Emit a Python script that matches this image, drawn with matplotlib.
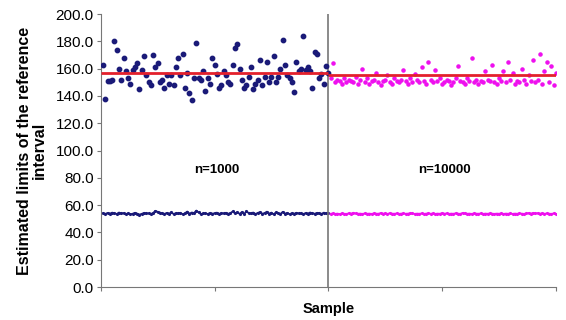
import numpy as np
import matplotlib.pyplot as plt

plt.rcParams['font.family'] = ['Liberation Sans', 'DejaVu Sans']

# upper limits, n=1000 (samples 1-100) and n=10000 (samples 101-200)
upper_1000 = [163, 138, 151, 151, 152, 180, 174, 160, 152, 168,
              158, 153, 149, 159, 161, 164, 145, 159, 169, 155,
              150, 148, 170, 161, 164, 150, 152, 146, 155, 149,
              155, 148, 161, 168, 155, 171, 146, 157, 142, 137,
              153, 179, 153, 152, 158, 144, 153, 149, 168, 163,
              156, 146, 148, 158, 155, 150, 149, 163, 175, 178,
              160, 152, 146, 148, 154, 161, 145, 149, 152, 166,
              148, 154, 165, 150, 154, 169, 150, 154, 160, 181,
              163, 155, 153, 150, 143, 165, 158, 160, 184, 159,
              161, 158, 146, 172, 171, 153, 156, 149, 162, 157]
upper_10000 = [153, 164, 150, 152, 151, 149, 153, 150, 152, 151,
               150, 154, 149, 152, 160, 150, 153, 149, 151, 152,
               157, 150, 148, 151, 152, 155, 150, 149, 153, 151,
               150, 152, 159, 151, 149, 153, 150, 156, 152, 150,
               161, 151, 149, 165, 152, 150, 159, 151, 153, 149,
               150, 152, 151, 148, 150, 153, 162, 151, 150, 149,
               153, 151, 168, 150, 152, 149, 151, 150, 158, 152,
               151, 163, 150, 149, 153, 151, 158, 150, 165, 152,
               157, 149, 151, 150, 160, 152, 149, 155, 151, 166,
               150, 152, 171, 149, 158, 165, 150, 162, 148, 157]

# lower limits
lower_1000 = [54.0, 53.6, 54.3, 53.8, 54.5, 54.1, 53.5, 54.6, 53.9, 54.2,
              53.4, 54.0, 53.2, 53.7, 54.4, 53.8, 53.1, 53.6, 54.3, 53.9,
              54.0, 53.5, 54.2, 55.8, 55.1, 54.6, 54.0, 53.6, 54.3, 53.7,
              54.8, 53.5, 54.1, 53.9, 54.4, 53.3, 54.0, 55.3, 53.8, 54.6,
              54.2, 56.0, 54.7, 53.4, 53.9, 54.1, 53.5, 54.3, 53.8, 54.0,
              54.5, 53.6, 54.2, 53.9, 54.4, 53.7, 54.1, 55.4, 54.0, 54.8,
              53.6, 54.9, 53.4, 55.5, 54.2, 53.9, 54.6, 53.5, 54.3, 54.9,
              53.7, 54.2, 55.2, 53.8, 54.5, 53.3, 54.7, 54.0, 53.6, 55.1,
              53.8, 54.3, 53.4, 54.1, 53.7, 54.4, 53.9, 54.0, 53.5, 54.2,
              53.8, 54.6, 54.0, 53.7, 54.3, 54.1, 53.6, 54.5, 53.9, 54.2]
lower_10000 = [53.7, 53.9, 53.6, 53.8, 53.5, 53.9, 53.7, 53.6, 54.0, 53.8,
               54.4, 53.9, 53.7, 53.8, 53.6, 53.9, 53.7, 53.8, 53.6, 53.9,
               53.8, 53.7, 54.2, 53.8, 53.9, 53.6, 54.1, 53.8, 53.7, 53.9,
               53.6, 53.8, 53.9, 53.7, 53.8, 54.1, 53.9, 53.6, 53.8, 53.7,
               53.9, 53.6, 53.8, 54.0, 53.7, 53.9, 53.6, 53.8, 53.7, 54.1,
               53.8, 53.9, 53.6, 53.8, 53.7, 54.0, 53.8, 53.6, 54.3, 53.9,
               53.7, 53.8, 53.6, 53.9, 53.8, 53.7, 53.9, 53.6, 53.8, 53.7,
               53.9, 53.8, 53.6, 53.8, 53.7, 53.9, 53.6, 53.8, 53.7, 53.9,
               53.6, 53.8, 53.7, 53.9, 53.8, 53.6, 53.9, 54.2, 53.8, 54.3,
               53.9, 54.1, 53.8, 54.0, 53.7, 53.9, 53.8, 53.6, 53.9, 53.8]

mean_upper = [156.5, 155.5]   # red reference lines
split = 100
ymax = 200

s1 = np.arange(1, len(upper_1000) + 1)
s2 = np.arange(split + 1, split + len(upper_10000) + 1)

navy = '#1a1a78'
mag = '#ee10ee'

fig = plt.figure(figsize=(5.66, 3.2), dpi=100)
ax = fig.add_axes([0.178, 0.103, 0.804, 0.853])

ax.plot(s1, lower_1000, '-', color=navy, lw=1.3, marker='.', ms=2.5)
ax.plot(s2, lower_10000, '-', color=mag, lw=1.3, marker='.', ms=2.5)
ax.scatter(s1, upper_1000, s=10, color=navy, zorder=3)
ax.scatter(s2, upper_10000, s=5, color=mag, zorder=3)

ax.hlines(mean_upper[0], 0, split, color='#e3202c', lw=2, zorder=4)
ax.hlines(mean_upper[1], split, 2 * split, color='#e3202c', lw=2, zorder=4)
ax.axvline(split, color='#777777', lw=1.2)

ax.text(split / 2 + 1, 86, 'n=1000', ha='center', va='center', fontsize=9.5, fontweight='bold')
ax.text(split * 1.5 + 1, 86, 'n=10000', ha='center', va='center', fontsize=9.5, fontweight='bold')

ax.set_xlim(0, 2 * split)
ax.set_ylim(0, ymax)
ax.set_yticks(np.arange(0, ymax + 1, 20))
ax.set_yticklabels(['%.1f' % v for v in np.arange(0, ymax + 1, 20)], fontsize=11)
ax.set_xticks([0, 50, 100, 150, 200])
ax.set_xticklabels([])
ax.tick_params(length=3, color='#777777', pad=2)
for side in ['top', 'right']:
    ax.spines[side].set_visible(False)
for side in ['left', 'bottom']:
    ax.spines[side].set_color('#777777')

ax.set_ylabel('Estimated limits of the reference\ninterval', fontsize=11.5,
              fontweight='bold', labelpad=6, linespacing=1.0)
ax.set_xlabel('Sample', fontsize=10.5, fontweight='bold', labelpad=6)

fig.savefig('out.png', dpi=100)
